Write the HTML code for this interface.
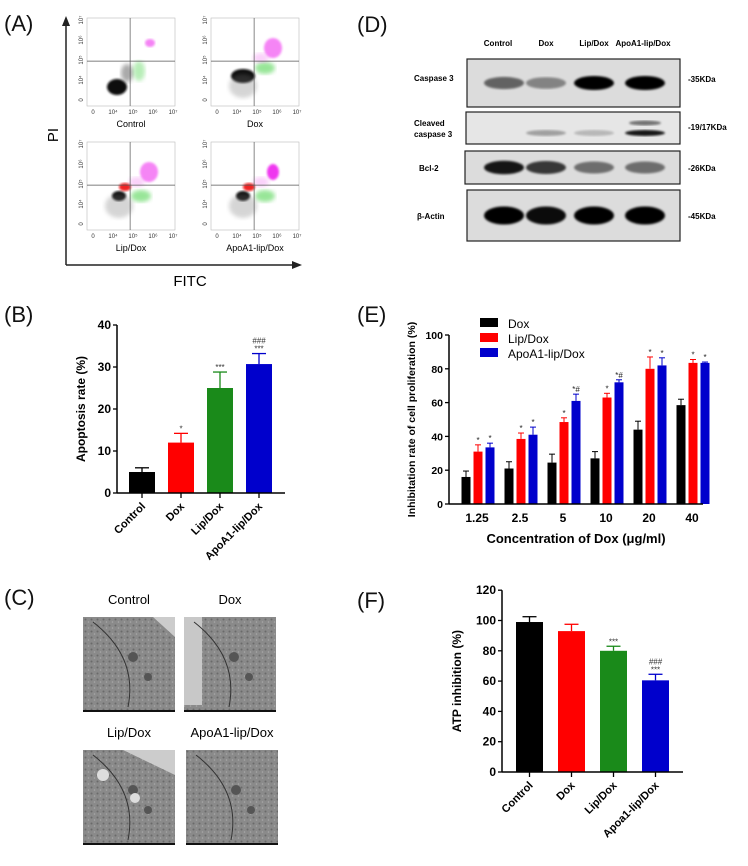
<!DOCTYPE html>
<html><head><meta charset="utf-8"><style>
body{margin:0;background:#fff;}
svg{display:block;font-family:"Liberation Sans",Arial,sans-serif;}
</style></head><body>
<svg id="fig" width="748" height="866" viewBox="0 0 748 866" xmlns="http://www.w3.org/2000/svg">
<defs><filter id="bl"><feGaussianBlur stdDeviation="2"/></filter><filter id="bl1"><feGaussianBlur stdDeviation="1"/></filter>
<pattern id="tex" width="6" height="6" patternUnits="userSpaceOnUse"><rect width="6" height="6" fill="#8a8a8a"/><circle cx="1.5" cy="1.5" r="1" fill="#6a6a6a"/><circle cx="4.5" cy="4" r="0.8" fill="#a8a8a8"/></pattern></defs>
<g font-size="22" fill="#111">
<text x="4" y="31">(A)</text>
<text x="4" y="322">(B)</text>
<text x="4" y="605">(C)</text>
<text x="357" y="32">(D)</text>
<text x="357" y="322">(E)</text>
<text x="357" y="608">(F)</text>
</g>
<g id="panelA">
<line x1="66" y1="22" x2="66" y2="265" stroke="#222" stroke-width="1.5"/>
<polygon points="62,26 66,16 70,26" fill="#222"/>
<line x1="66" y1="265" x2="294" y2="265" stroke="#222" stroke-width="1.5"/>
<polygon points="292,261 302,265 292,269" fill="#222"/>
<text x="58" y="135" font-size="15" text-anchor="middle" transform="rotate(-90 58 135)">PI</text>
<text x="190" y="286" font-size="15" text-anchor="middle">FITC</text>
</g>
<g id="panelC">
<text x="129" y="604" font-size="13" text-anchor="middle">Control</text>
<text x="230" y="604" font-size="13" text-anchor="middle">Dox</text>
<text x="129" y="737" font-size="13" text-anchor="middle">Lip/Dox</text>
<text x="232" y="737" font-size="13" text-anchor="middle">ApoA1-lip/Dox</text>
</g>
<g id="panelD" font-size="8">
<text x="498" y="46" text-anchor="middle" font-weight="bold">Control</text>
<text x="546" y="46" text-anchor="middle" font-weight="bold">Dox</text>
<text x="594" y="46" text-anchor="middle" font-weight="bold">Lip/Dox</text>
<text x="643" y="46" text-anchor="middle" font-weight="bold">ApoA1-lip/Dox</text>
<text x="414" y="81" font-weight="bold">Caspase 3</text>
<text x="414" y="126" font-weight="bold">Cleaved</text>
<text x="414" y="137" font-weight="bold">caspase 3</text>
<text x="419" y="171" font-weight="bold">Bcl-2</text>
<text x="417" y="219" font-weight="bold">β-Actin</text>
<text x="688" y="82" font-weight="bold">-35KDa</text>
<text x="688" y="130" font-weight="bold">-19/17KDa</text>
<text x="688" y="171" font-weight="bold">-26KDa</text>
<text x="688" y="219" font-weight="bold">-45KDa</text>
</g>
<g id="charts"></g>
</svg>
<script>
const NS="http://www.w3.org/2000/svg";
function mk(parent,tag,attrs,txt){const e=document.createElementNS(NS,tag);for(const k in attrs)e.setAttribute(k,attrs[k]);if(txt!==undefined)e.textContent=txt;parent.appendChild(e);return e;}
const charts=document.getElementById('charts');

const flowTitles=["Control","Dox","Lip/Dox","ApoA1-lip/Dox"];
const flowPos=[[87,18],[211,18],[87,142],[211,142]];
const pA=document.getElementById('panelA');
flowTitles.forEach((t,i)=>{
  const [x,y]=flowPos[i];const w=88,h=88;
  const g=mk(pA,'g',{});
  
  
  mk(g,'rect',{x:x,y:y,width:w,height:h,fill:'#fff',stroke:'#bbb','stroke-width':0.6});
  const cx=x+w*0.49, cy=y+h*0.49;
  if(i===0){
    mk(g,'ellipse',{cx:x+30,cy:y+69,rx:10,ry:8,fill:'#111',filter:'url(#bl1)'});
    mk(g,'ellipse',{cx:x+40,cy:y+55,rx:6,ry:9,fill:'#555',opacity:0.5,filter:'url(#bl)'});
    mk(g,'ellipse',{cx:x+52,cy:y+53,rx:6,ry:10,fill:'#3c3',opacity:0.35,filter:'url(#bl)'});
    mk(g,'ellipse',{cx:x+63,cy:y+25,rx:5,ry:4,fill:'#e3e',opacity:0.6,filter:'url(#bl1)'});
  } else {
    const blackX=[0,32,32,32][i], blackY=[0,58,54,54][i];
    mk(g,'ellipse',{cx:x+blackX,cy:y+blackY,rx:i===1?12:7,ry:i===1?7:5,fill:'#111',filter:'url(#bl1)'});
    mk(g,'ellipse',{cx:x+blackX,cy:y+blackY+10,rx:14,ry:12,fill:'#777',opacity:0.3,filter:'url(#bl)'});
    if(i>1) mk(g,'ellipse',{cx:x+38,cy:y+45,rx:6,ry:4,fill:'#e11',opacity:0.9,filter:'url(#bl1)'});
    mk(g,'ellipse',{cx:x+54,cy:y+(i===1?50:54),rx:10,ry:6,fill:'#3c3',opacity:0.5,filter:'url(#bl)'});
    mk(g,'ellipse',{cx:x+62,cy:y+30,rx:i===3?6:9,ry:i===3?8:10,fill:'#e2e',opacity:i===3?0.9:0.55,filter:'url(#bl1)'});
    mk(g,'ellipse',{cx:x+50,cy:y+40,rx:8,ry:5,fill:'#e6e',opacity:0.3,filter:'url(#bl)'});
  }
  mk(g,'line',{x1:cx,y1:y,x2:cx,y2:y+h,stroke:'#555','stroke-width':0.7});
  mk(g,'line',{x1:x,y1:cy,x2:x+w,y2:cy,stroke:'#555','stroke-width':0.7});
  const tl=["0","10⁴","10⁵","10⁶","10⁷"];
  tl.forEach((l,k)=>{
    mk(g,'text',{x:x+6+k*20,y:y+h+8,'font-size':6,'text-anchor':'middle',fill:'#333'},l);
    mk(g,'text',{x:x-4,y:y+h-6-k*20,'font-size':6,'text-anchor':'middle',fill:'#333',transform:`rotate(-90 ${x-4} ${y+h-6-k*20})`},l);
  });
  const tt=mk(g,'text',{x:x+w/2,y:y+h+21,'font-size':9,'text-anchor':'middle'},t);
  
  
});

const pC=document.getElementById('panelC');
const emPos=[[83,617],[184,617],[83,750],[186,750]];
emPos.forEach((p,i)=>{
  const g=mk(pC,'g',{});
  
  
  mk(g,'rect',{x:p[0],y:p[1],width:92,height:95,fill:'url(#tex)'});
  if(i===1) mk(g,'rect',{x:p[0],y:p[1],width:18,height:88,fill:'#c8c8c8'});
  if(i===0) mk(g,'path',{d:`M${p[0]+70} ${p[1]} L${p[0]+92} ${p[1]} L${p[0]+92} ${p[1]+20} Z`,fill:'#ccc'});
  if(i===2) mk(g,'path',{d:`M${p[0]+40} ${p[1]} L${p[0]+92} ${p[1]} L${p[0]+92} ${p[1]+25} Z`,fill:'#ccc'});
  mk(g,'path',{d:`M${p[0]+10} ${p[1]+5} Q${p[0]+55} ${p[1]+40} ${p[0]+45} ${p[1]+90}`,stroke:'#333',fill:'none','stroke-width':1});
  mk(g,'circle',{cx:p[0]+50,cy:p[1]+40,r:5,fill:'#555'});
  mk(g,'circle',{cx:p[0]+65,cy:p[1]+60,r:4,fill:'#555'});
  if(i===2){mk(g,'circle',{cx:p[0]+20,cy:p[1]+25,r:6,fill:'#ddd'});mk(g,'circle',{cx:p[0]+52,cy:p[1]+48,r:5,fill:'#ddd'});}
  mk(g,'rect',{x:p[0],y:p[1]+93,width:92,height:2,fill:'#111'});
});

const pD=document.getElementById('panelD');
const blotFrames=[[467,59,213,48],[466,112,214,32],[465,151,215,33],[467,190,213,51]];
const laneX=[504,546,594,645];
const bandInt=[[0.55,0.4,1,1],[0,0.3,0.2,0.9],[0.9,0.75,0.5,0.5],[1,0.95,1,1]];
blotFrames.forEach((f,r)=>{
  const g=mk(pD,'g',{});
  
  
  mk(g,'rect',{x:f[0],y:f[1],width:f[2],height:f[3],fill:r===1?'#e6e6e6':'#dcdcdc',stroke:'#222','stroke-width':1.2});
  bandInt[r].forEach((v,k)=>{
    if(v<=0)return;
    const cy=f[1]+f[3]/2+(r===1?5:0);
    mk(g,'ellipse',{cx:laneX[k],cy:cy,rx:20,ry:r===3?9:(r===1?3:5+2*v),fill:'#000',opacity:v,filter:'url(#bl1)'});
    if(r===1&&k===3) mk(g,'ellipse',{cx:laneX[k],cy:cy-10,rx:16,ry:2.5,fill:'#000',opacity:0.5,filter:'url(#bl1)'});
  });
});

function axisY(g,x0,y0,y1,ticks,vmax,label,labelX,fs){
  mk(g,'line',{x1:x0,y1:y0,x2:x0,y2:y1,stroke:'#000','stroke-width':1.5});
  ticks.forEach(t=>{const y=y0-(t/vmax)*(y0-y1);
    mk(g,'line',{x1:x0-4,y1:y,x2:x0,y2:y,stroke:'#000','stroke-width':1.3});
    mk(g,'text',{x:x0-6,y:y+4,'font-size':fs,'text-anchor':'end','font-weight':'bold'},t);});
  const ly=(y0+y1)/2;
  const lt=mk(g,'text',{x:labelX,y:ly,'font-size':fs,'text-anchor':'middle','font-weight':'bold',transform:`rotate(-90 ${labelX} ${ly})`},label);
  
  
}

const bCats=["Control","Dox","Lip/Dox","ApoA1-lip/Dox"];
const bVals=[5,12,25,30.7];
const bErr=[1,2.2,3.8,2.5];
const bSig=["","*","***","***"];
const bSig2=["","","","###"];
const bTicks=[0,10,20,30,40];
const bColors=['#000','#f00','#1a8a1a','#0000cc'];
(function(){
  const g=mk(charts,'g',{});
  
  
  const x0=117,y0=493,ytop=325,vmax=40,xEnd=285;
  const yS=v=>y0-v/vmax*(y0-ytop);
  const bx=i=>142+i*39;
  bVals.forEach((v,i)=>{
    const c=bx(i);
    const r=mk(g,'rect',{x:c-13,y:yS(v),width:26,height:y0-yS(v),fill:bColors[i]});
    
    
    mk(g,'line',{x1:c,y1:yS(v),x2:c,y2:yS(v+bErr[i]),stroke:bColors[i],'stroke-width':1.3});
    mk(g,'line',{x1:c-7,y1:yS(v+bErr[i]),x2:c+7,y2:yS(v+bErr[i]),stroke:bColors[i],'stroke-width':1.3});
    if(bSig[i])mk(g,'text',{x:c,y:yS(v+bErr[i])-2,'font-size':8,'text-anchor':'middle',fill:'#333'},bSig[i]);
    if(bSig2[i])mk(g,'text',{x:c,y:yS(v+bErr[i])-10,'font-size':8,'text-anchor':'middle',fill:'#333'},bSig2[i]);
    mk(g,'line',{x1:c,y1:y0,x2:c,y2:y0+5,stroke:'#000','stroke-width':1.3});
    mk(g,'text',{x:c+4,y:y0+14,'font-size':11,'font-weight':'bold','text-anchor':'end',transform:`rotate(-45 ${c+4} ${y0+14})`},bCats[i]);
  });
  mk(g,'line',{x1:x0,y1:y0,x2:xEnd,y2:y0,stroke:'#000','stroke-width':1.5});
  axisY(g,x0,y0,ytop,bTicks,vmax,'Apoptosis rate (%)',85,12);
})();

const eCats=["1.25","2.5","5","10","20","40"];
const eDox=[16,21,24.5,27,44,58.5];
const eDoxErr=[3.5,4,5,4,5,3.5];
const eLip=[31,38.5,48.5,63,80,83.5];
const eLipErr=[4,3.5,2.5,2.5,7,2];
const eApo=[33.5,41,61,72,82,83.5];
const eApoErr=[2.5,4.5,4,1.5,4.5,0.5];
const eSigLip=["*","*","*","*","*","*"];
const eSigApo=["*","*","*#","*#","*","*"];
const eTicks=[0,20,40,60,80,100];
const eSeriesNames=["Dox","Lip/Dox","ApoA1-lip/Dox"];
(function(){
  const g=mk(charts,'g',{});
  
  
  const x0=449,y0=504,ytop=335,vmax=100,xEnd=703;
  const yS=v=>y0-v/vmax*(y0-ytop);
  const gx=i=>477+i*43;
  const series=[[eDox,eDoxErr,'#000',null],[eLip,eLipErr,'#f00',eSigLip],[eApo,eApoErr,'#0000cc',eSigApo]];
  const offs=[-11,1,13];
  eCats.forEach((cat,i)=>{
    series.forEach((s,k)=>{
      const c=gx(i)+offs[k],v=s[0][i],e=s[1][i];
      const r=mk(g,'rect',{x:c-4.5,y:yS(v),width:9,height:y0-yS(v),fill:s[2]});
      
      
      mk(g,'line',{x1:c,y1:yS(v),x2:c,y2:yS(v+e),stroke:s[2],'stroke-width':1});
      mk(g,'line',{x1:c-3,y1:yS(v+e),x2:c+3,y2:yS(v+e),stroke:s[2],'stroke-width':1});
      if(s[3])mk(g,'text',{x:c,y:yS(v+e)-2,'font-size':8,'text-anchor':'middle',fill:'#222'},s[3][i]);
    });
    mk(g,'text',{x:gx(i),y:y0+18,'font-size':12,'font-weight':'bold','text-anchor':'middle'},cat);
  });
  mk(g,'line',{x1:x0,y1:y0,x2:xEnd,y2:y0,stroke:'#000','stroke-width':1.5});
  axisY(g,x0,y0,ytop,eTicks,vmax,'Inhibitation rate of cell proliferation (%)',415,10.5);
  mk(g,'text',{x:576,y:543,'font-size':13,'font-weight':'bold','text-anchor':'middle'},'Concentration of Dox (μg/ml)');
  const lc=['#000','#f00','#0000cc'];
  eSeriesNames.forEach((n,k)=>{
    const le=mk(g,'g',{});
    
    
    mk(le,'rect',{x:480,y:318+k*15,width:18,height:9,fill:lc[k]});
    mk(le,'text',{x:508,y:328+k*15,'font-size':12},n);
  });
})();

const fCats=["Control","Dox","Lip/Dox","Apoa1-lip/Dox"];
const fVals=[99,93,80,60.5];
const fErr=[3.5,4.5,3,4];
const fSig=["","","***","***"];
const fSig2=["","","","###"];
const fTicks=[0,20,40,60,80,100,120];
(function(){
  const g=mk(charts,'g',{});
  
  
  const x0=502,y0=772,vmax=120,ytop=772-151.5*1.2,xEnd=683;
  const yS=v=>y0-v/vmax*(y0-ytop);
  const bx=i=>529.5+i*42;
  fVals.forEach((v,i)=>{
    const c=bx(i);
    const r=mk(g,'rect',{x:c-13.5,y:yS(v),width:27,height:y0-yS(v),fill:bColors[i]});
    
    
    mk(g,'line',{x1:c,y1:yS(v),x2:c,y2:yS(v+fErr[i]),stroke:bColors[i],'stroke-width':1.3});
    mk(g,'line',{x1:c-7,y1:yS(v+fErr[i]),x2:c+7,y2:yS(v+fErr[i]),stroke:bColors[i],'stroke-width':1.3});
    if(fSig[i])mk(g,'text',{x:c,y:yS(v+fErr[i])-2,'font-size':8,'text-anchor':'middle',fill:'#333'},fSig[i]);
    if(fSig2[i])mk(g,'text',{x:c,y:yS(v+fErr[i])-10,'font-size':8,'text-anchor':'middle',fill:'#333'},fSig2[i]);
    mk(g,'line',{x1:c,y1:y0,x2:c,y2:y0+5,stroke:'#000','stroke-width':1.3});
    mk(g,'text',{x:c+4,y:y0+14,'font-size':11,'font-weight':'bold','text-anchor':'end',transform:`rotate(-45 ${c+4} ${y0+14})`},fCats[i]);
  });
  mk(g,'line',{x1:x0,y1:y0,x2:xEnd,y2:y0,stroke:'#000','stroke-width':1.5});
  axisY(g,x0,y0,ytop,fTicks,vmax,'ATP inhibition (%)',461,12);
})();
</script>
</body></html>
